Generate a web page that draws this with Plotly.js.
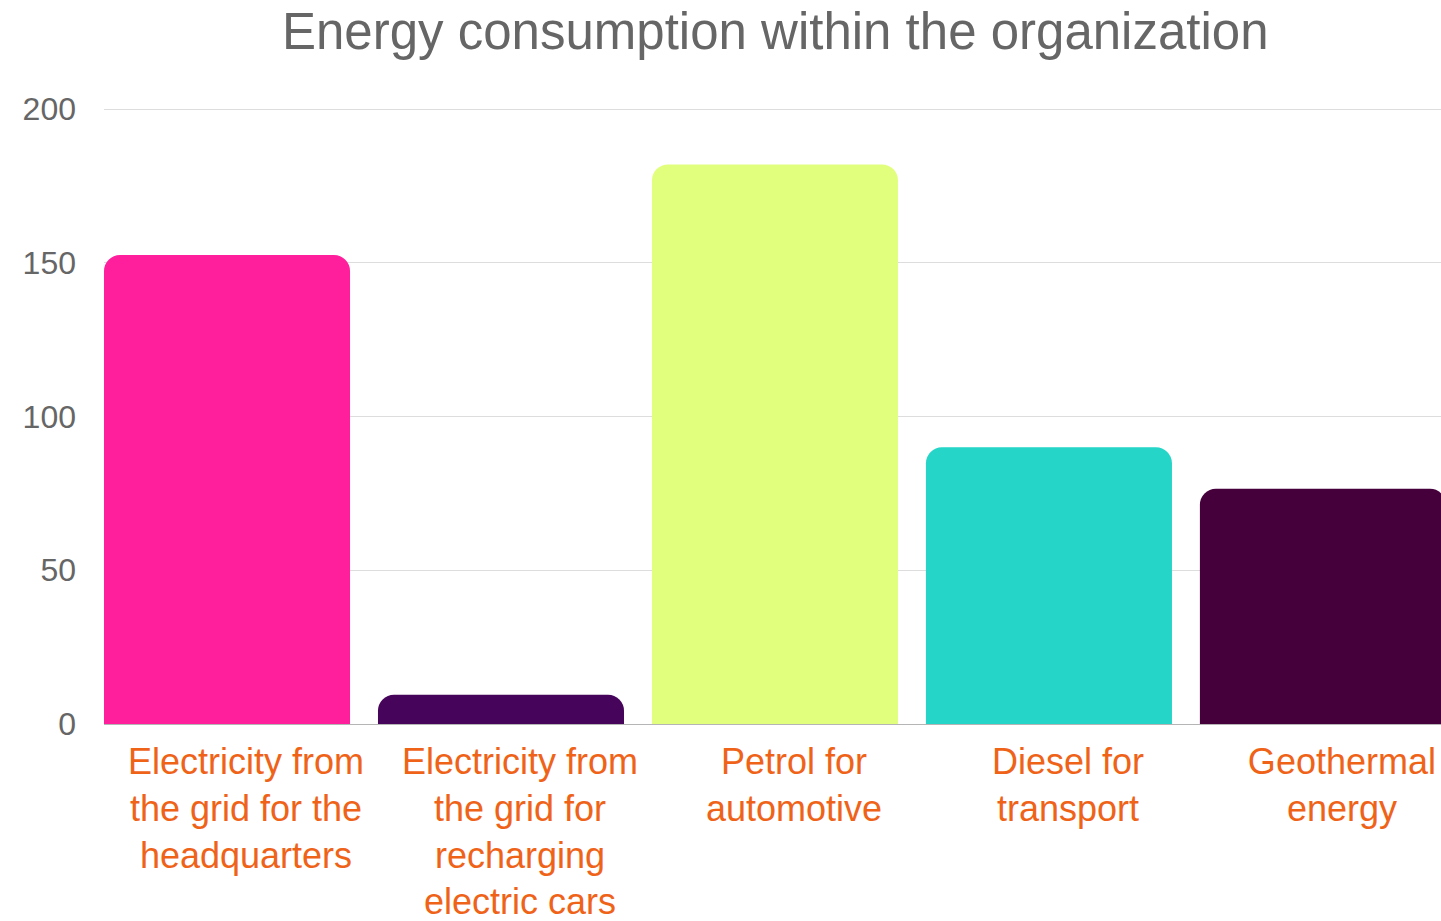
<!DOCTYPE html>
<html>
<head>
<meta charset="utf-8">
<script src="https://cdn.plot.ly/plotly-3.0.1.min.js"></script>
<style>html,body{margin:0;padding:0;background:#fff;}#chart{width:1441px;height:921px;}</style>
</head>
<body>
<div id="chart"></div>
<script>
const categories = [
  "Electricity from<br>the grid for the<br>headquarters",
  "Electricity from<br>the grid for<br>recharging<br>electric cars",
  "Petrol for<br>automotive",
  "Diesel for<br>transport",
  "Geothermal<br>energy"
];
const values = [152.5, 9.5, 182, 90, 76.5];
const barColors = ["#ff1f9c", "#46045a", "#e1ff7d", "#25d5c8", "#45003c"];
const yTicks = [0, 50, 100, 150, 200];
const titleText = "Energy consumption within the organization";

const FONT = "Liberation Sans, Arial, Helvetica, sans-serif";

Plotly.newPlot("chart", [{
  type: "bar",
  x: categories,
  y: values,
  marker: { color: barColors, cornerradius: 16 },
  hoverinfo: "none"
}], {
  width: 1441,
  height: 921,
  margin: { l: 104, r: 0, t: 106, b: 197, pad: 0 },
  paper_bgcolor: "#ffffff",
  plot_bgcolor: "#ffffff",
  bargap: 0.102,
  showlegend: false,
  title: {
    text: titleText,
    font: { family: FONT, size: 51, color: "#666666" },
    x: 0.538, xanchor: "center",
    y: 0.966, yanchor: "middle"
  },
  xaxis: {
    type: "category",
    range: [-0.449, 4.431],
    showgrid: false,
    showline: false,
    zeroline: false,
    ticks: "",
    ticklabelstandoff: 13,
    ticklabelshift: 19,
    tickfont: { family: FONT, size: 36, color: "#ef6319" }
  },
  yaxis: {
    range: [0, 201],
    tickvals: yTicks,
    showgrid: true,
    gridcolor: "#dddddd",
    gridwidth: 1,
    zeroline: true,
    zerolinecolor: "#b5b5b5",
    zerolinewidth: 1,
    showline: false,
    ticks: "",
    ticklabelstandoff: 27,
    tickfont: { family: FONT, size: 32, color: "#666666" }
  }
}, { displayModeBar: false, staticPlot: true });
</script>
</body>
</html>
